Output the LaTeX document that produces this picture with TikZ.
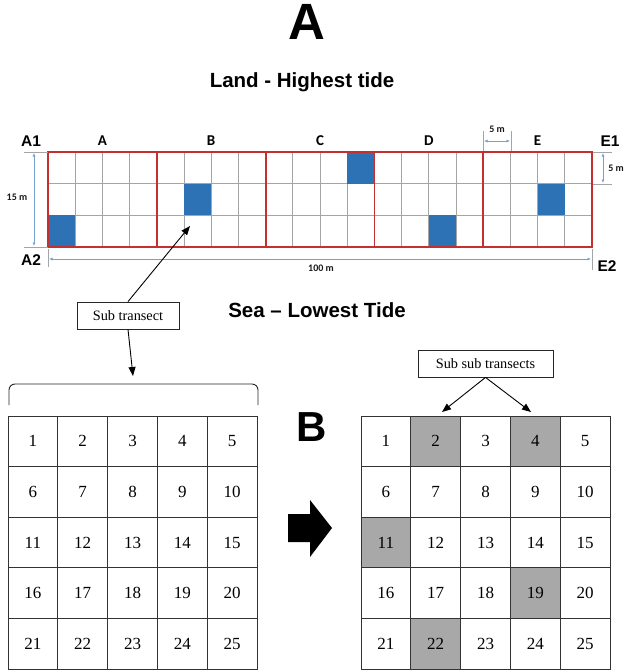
\documentclass[tikz,border=0pt]{standalone}
\usepackage{fontspec}
\setmainfont{Liberation Serif}
\setsansfont{Liberation Sans}
\newfontfamily\carl{Carlito}
\usetikzlibrary{arrows.meta}
\definecolor{tblue}{RGB}{46,114,182}
\definecolor{tred}{RGB}{196,48,48}
\definecolor{tgrid}{RGB}{165,165,165}
\definecolor{dimblue}{RGB}{120,160,205}
\definecolor{cellgray}{RGB}{168,168,168}
\tikzset{
  dimarrow/.style={draw=dimblue, line width=0.7, {Latex[length=3.5,width=3]}-{Latex[length=3.5,width=3]}},
  extline/.style={draw=tgrid, line width=0.6},
  dimlabel/.style={font=\carl\bfseries\fontsize{10}{12}\selectfont, text=black!90, inner sep=0},
  seclabel/.style={font=\carl\bfseries\fontsize{15}{18}\selectfont, inner sep=0, anchor=base},
  cornerlabel/.style={font=\sffamily\bfseries\fontsize{15.5}{18}\selectfont, inner sep=0, anchor=base},
  cellbox/.style={draw=black!80, line width=0.9, minimum width=49.8, minimum height=50.6, inner sep=0, font=\fontsize{17}{20}\selectfont},
  labelbox/.style={draw=black!85, line width=0.8, inner sep=0, font=\fontsize{14.3}{17}\selectfont},
  pointer/.style={draw=black, line width=0.9, -{Triangle[length=9,width=7]}}
}
\begin{document}
\begin{tikzpicture}[x=1pt,y=-1pt]
\useasboundingbox (0,0) rectangle (625,672);

% titles
\node[font=\sffamily\bfseries\fontsize{51}{54}\selectfont, inner sep=0] (bigA) at (307,21.5) {A};
\node[font=\sffamily\bfseries\fontsize{20.5}{24}\selectfont, inner sep=0, anchor=base] (land) at (302,87) {Land - Highest tide};
\node[font=\sffamily\bfseries\fontsize{20.5}{24}\selectfont, inner sep=0, anchor=base] (sea) at (317,317) {Sea – Lowest Tide};
\node[font=\sffamily\bfseries\fontsize{42}{46}\selectfont, inner sep=0] (bigB) at (312,427) {B};

% transect grid
\foreach \i in {1,...,19} \draw[tgrid, line width=0.8] (48+27.2*\i,152) -- (48+27.2*\i,247);
\foreach \j in {1,2} \draw[tgrid, line width=0.8] (48,152+31.667*\j) -- (592,152+31.667*\j);
\foreach \c/\r in {0/2,5/1,11/0,14/2,18/1}
  \fill[tblue] (48+27.2*\c,152+31.667*\r) rectangle +(27.2,31.667);
\foreach \k in {0,...,4}
  \draw[tred, line width=1.8] (48+108.8*\k,152) rectangle +(108.8,95);

% section labels
\foreach \l [count=\k from 0] in {A,B,C,D,E}
  \node[seclabel] (sec\l) at (102.4+108.8*\k,145) {\l};
\node[cornerlabel] (A1) at (31,146) {A1};
\node[cornerlabel] (A2) at (31,265) {A2};
\node[cornerlabel] (E1) at (610,146) {E1};
\node[cornerlabel] (E2) at (607,271) {E2};

% dimensions
\draw[extline] (24,152) -- (48,152);
\draw[extline] (24,247) -- (48,247);
\coordinate (d15a) at (34,153); \coordinate (d15b) at (34,246);
\draw[dimarrow] (d15a) -- (d15b);
\node[dimlabel] (l15) at (17,197) {15 m};

\draw[extline] (48,249) -- (48,267);
\draw[extline] (592,249) -- (592,270);
\coordinate (d100a) at (49,259); \coordinate (d100b) at (591,259);
\draw[dimarrow] (d100a) -- (d100b);
\node[dimlabel] (l100) at (321,268) {100 m};

\draw[extline] (483,131) -- (483,151);
\draw[extline] (511,131) -- (511,151);
\coordinate (d5a) at (484,141); \coordinate (d5b) at (510,141);
\draw[dimarrow] (d5a) -- (d5b);
\node[dimlabel] (l5a) at (497,129) {5 m};

\draw[extline] (593,152) -- (612,152);
\draw[extline] (593,184) -- (612,184);
\coordinate (d5c) at (603,153); \coordinate (d5d) at (603,183);
\draw[dimarrow] (d5c) -- (d5d);
\node[dimlabel] (l5b) at (616,168) {5 m};

% left grid
\foreach \n in {1,...,25}{
  \pgfmathtruncatemacro{\cc}{mod(\n-1,5)}
  \pgfmathtruncatemacro{\rr}{div(\n-1,5)}
  \node[cellbox] (L\n) at (8+24.9+49.8*\cc,416+25.3+50.6*\rr) {\n};
}
% right grid
\foreach \n in {1,...,25}{
  \pgfmathtruncatemacro{\cc}{mod(\n-1,5)}
  \pgfmathtruncatemacro{\rr}{div(\n-1,5)}
  \def\fillc{white}
  \ifnum\n=2 \def\fillc{cellgray}\fi
  \ifnum\n=4 \def\fillc{cellgray}\fi
  \ifnum\n=11 \def\fillc{cellgray}\fi
  \ifnum\n=19 \def\fillc{cellgray}\fi
  \ifnum\n=22 \def\fillc{cellgray}\fi
  \node[cellbox, fill=\fillc] (R\n) at (361+24.9+49.8*\cc,416+25.3+50.6*\rr) {\n};
}

% brace
\coordinate (brL) at (9,405);
\coordinate (brR) at (258,405);
\draw[black!85, line width=0.9, rounded corners=6] (brL) -- (9,384) -- (258,384) -- (brR);
\coordinate (brTip) at (133,376);

% label boxes
\node[labelbox, minimum width=102, minimum height=27] (st) at (128,315.5) {Sub transect};
\coordinate (tipB) at (190,226);
\draw[pointer] (st.north) -- (tipB);
\draw[pointer] (st.south) -- (brTip);

\node[labelbox, minimum width=135, minimum height=27] (sst) at (485.5,363.5) {Sub sub transects};
\coordinate (t2) at (442,412);
\coordinate (t4) at (531,412);
\draw[pointer] (sst.south) -- (t2);
\draw[pointer] (sst.south) -- (t4);

% block arrow
\fill[black] (288,514) -- (310,514) -- (310,500) -- (332,528) -- (310,557) -- (310,542) -- (288,542) -- cycle;
\end{tikzpicture}
\end{document}
